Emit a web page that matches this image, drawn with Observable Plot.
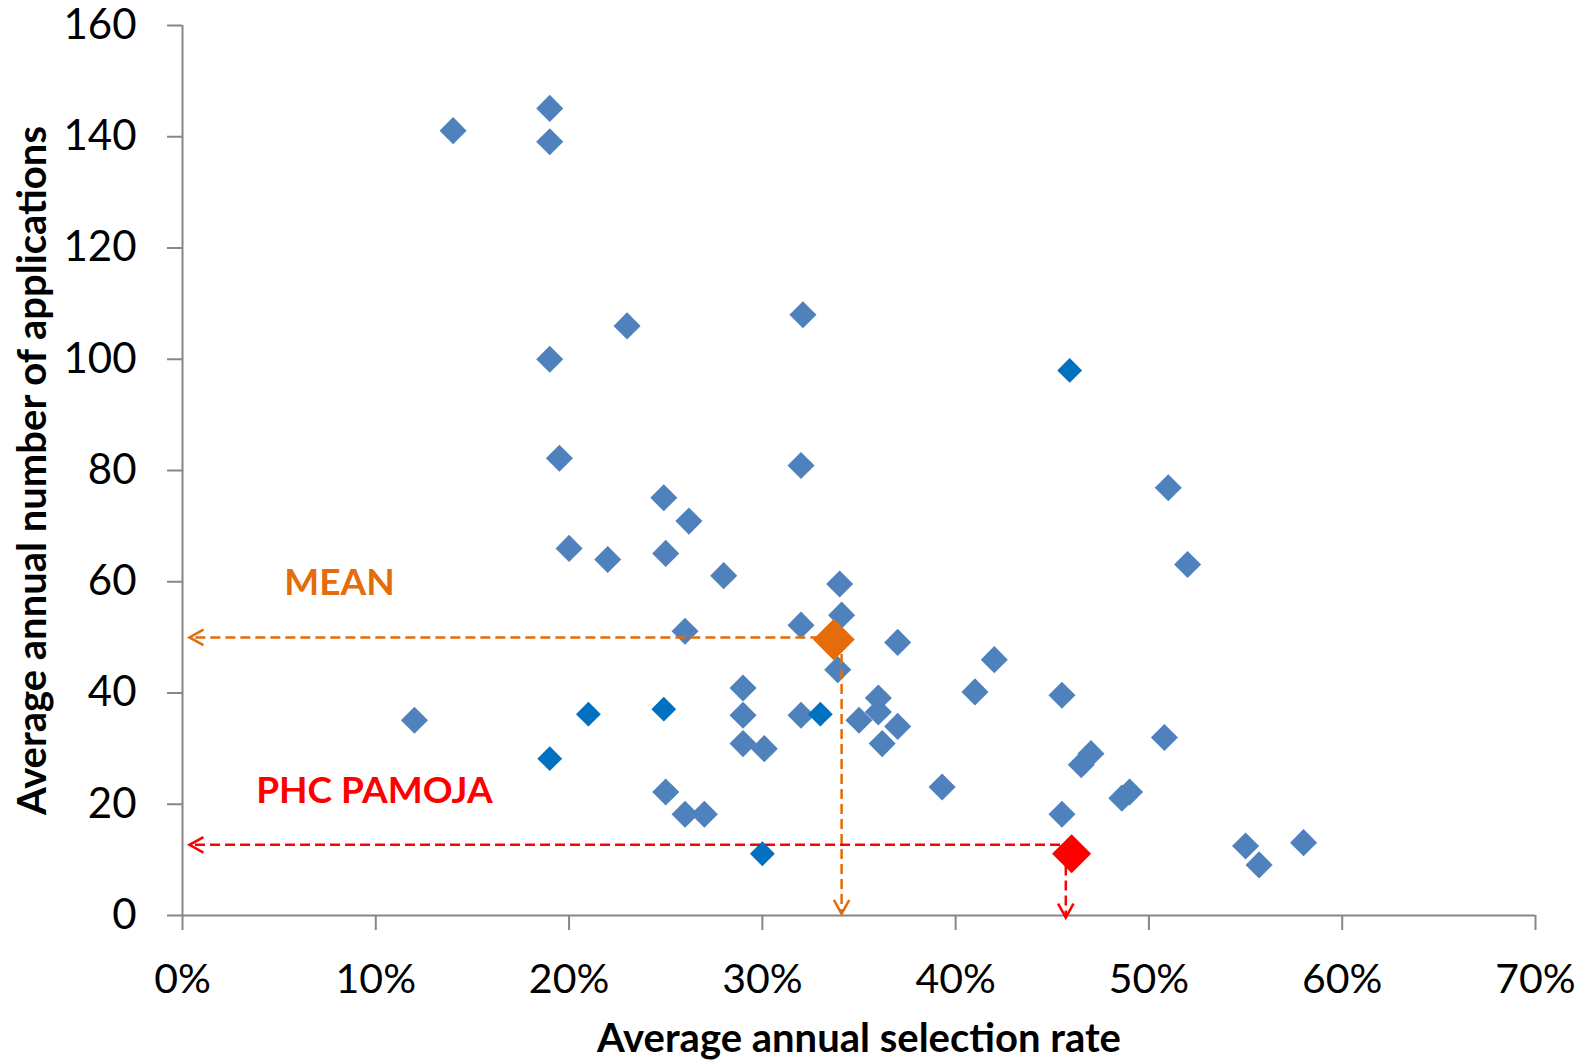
<!DOCTYPE html>
<html>
<head>
<meta charset="utf-8">
<script src="https://cdn.jsdelivr.net/npm/d3@7"></script>
<script src="https://cdn.jsdelivr.net/npm/@observablehq/plot@0.6"></script>
<style>
  html, body { margin: 0; padding: 0; background: #fff; }
</style>
</head>
<body>
<div id="chart"></div>
<script>
// ---- Data ----
// Facilities, regular markers: average annual selection rate (fraction) and applications
const rates = [0.140, 0.190, 0.190, 0.190, 0.195, 0.230, 0.321, 0.320, 0.510, 0.520,
               0.249, 0.262, 0.200, 0.220, 0.250, 0.280, 0.340, 0.341, 0.320, 0.260,
               0.370, 0.339, 0.420, 0.410, 0.455, 0.360, 0.360, 0.362, 0.350, 0.370,
               0.320, 0.290, 0.290, 0.290, 0.301, 0.120, 0.250, 0.260, 0.270, 0.393,
               0.455, 0.465, 0.470, 0.486, 0.490, 0.508, 0.550, 0.557, 0.580];
const apps  = [141.1, 145.1, 139.1, 100.0, 82.2, 106.0, 108.0, 80.9, 76.9, 63.1,
               75.1, 70.9, 66.0, 64.0, 65.1, 61.1, 59.6, 54.0, 52.2, 51.1,
               49.1, 44.2, 46.0, 40.2, 39.6, 39.1, 36.6, 30.9, 35.1, 34.0,
               36.0, 40.9, 36.0, 30.9, 30.0, 35.1, 22.2, 18.2, 18.2, 23.1,
               18.2, 27.1, 29.1, 21.1, 22.2, 32.0, 12.5, 9.1, 13.1];
// Facilities, darker (smaller) markers
const ratesDark = [0.459, 0.330, 0.249, 0.210, 0.190, 0.300];
const appsDark  = [98.0, 36.2, 37.1, 36.2, 28.2, 11.1];
// Highlighted points
const meanRate = 0.337, meanApps = 49.6;
const phcRate = 0.460, phcApps = 11.1;
// Guide lines (data units): [rate1, apps1, rate2, apps2]
const meanGuideH = [0.330, 50.0, 0.0036, 50.0];
const meanGuideV = [0.341, 47.0, 0.341, 0.3];
const phcGuideH  = [0.454, 12.7, 0.0036, 12.7];
const phcGuideV  = [0.457, 9.0, 0.457, -0.4];
// Annotation labels
const labelTexts = ["MEAN", "PHC PAMOJA"];
const labelRates = [0.0812, 0.0993];
const labelApps  = [59.7, 22.3];
// Axes
const xTicks = [0, 0.1, 0.2, 0.3, 0.4, 0.5, 0.6, 0.7];
const yTicks = [0, 20, 40, 60, 80, 100, 120, 140, 160];
const xTitle = "Average annual selection rate";
const yTitle = "Average annual number of applications";

// ---- Build tables ----
const pts = rates.map((r, i) => ({rate: r, apps: apps[i]}));
const ptsDark = ratesDark.map((r, i) => ({rate: r, apps: appsDark[i]}));
const seg = (a) => ({x1: a[0], y1: a[1], x2: a[2], y2: a[3]});
const labels = labelTexts.map((t, i) => ({text: t, rate: labelRates[i], apps: labelApps[i]}));

const BLUE = "#4F81BD", DARK = "#0070C0", ORANGE = "#E46C0A", RED = "#FF0000", AXIS = "#868686";

// open V arrowheads (tip at origin)
const arrowLeft = {draw(ctx, size) { const s = Math.sqrt(size / Math.PI); ctx.moveTo(s, -s * 0.55); ctx.lineTo(0, 0); ctx.lineTo(s, s * 0.55); }};
const arrowDown = {draw(ctx, size) { const s = Math.sqrt(size / Math.PI); ctx.moveTo(-s * 0.55, -s); ctx.lineTo(0, 0); ctx.lineTo(s * 0.55, -s); }};

const dash = "10,5";
const guide = (a, color) => Plot.link([seg(a)], {x1: "x1", y1: "y1", x2: "x2", y2: "y2", stroke: color, strokeWidth: 2.5, strokeDasharray: dash});
const headL = (a, color) => Plot.dot([seg(a)], {x: "x2", y: "y2", symbol: arrowLeft, r: 14, fill: "none", stroke: color, strokeWidth: 2.5});
const headD = (a, color) => Plot.dot([seg(a)], {x: "x2", y: "y2", symbol: arrowDown, r: 14, fill: "none", stroke: color, strokeWidth: 2.5});

const chart = Plot.plot({
  width: 1585,
  height: 1062,
  marginLeft: 182,
  marginRight: 50,
  marginTop: 25,
  marginBottom: 147,
  style: {fontFamily: "Lato, 'Open Sans', sans-serif", fontSize: "40px", color: "#000", background: "#fff"},
  x: {domain: [0, 0.7]},
  y: {domain: [0, 160]},
  marks: [
    Plot.axisX({ticks: xTicks, tickFormat: d3.format(".0%"), tickSize: 15, tickPadding: 33, stroke: AXIS, strokeWidth: 2, fill: "#000", fontSize: 41, label: null}),
    Plot.axisY({ticks: yTicks, tickSize: 15, tickPadding: 31, stroke: AXIS, strokeWidth: 2, fill: "#000", fontSize: 42, label: null}),
    Plot.ruleY([0], {stroke: AXIS, strokeWidth: 2}),
    Plot.ruleX([0], {stroke: AXIS, strokeWidth: 2}),
    Plot.dot(pts, {x: "rate", y: "apps", symbol: "diamond2", r: 12.2, fill: BLUE, stroke: "none"}),
    Plot.dot(ptsDark, {x: "rate", y: "apps", symbol: "diamond2", r: 11.2, fill: DARK, stroke: "none"}),
    guide(meanGuideH, ORANGE), guide(meanGuideV, ORANGE),
    guide(phcGuideH, RED), guide(phcGuideV, RED),
    headL(meanGuideH, ORANGE), headD(meanGuideV, ORANGE),
    headL(phcGuideH, RED), headD(phcGuideV, RED),
    Plot.dot([{rate: meanRate, apps: meanApps}], {x: "rate", y: "apps", symbol: "diamond2", r: 18.8, fill: ORANGE, stroke: "none"}),
    Plot.dot([{rate: phcRate, apps: phcApps}], {x: "rate", y: "apps", symbol: "diamond2", r: 17.6, fill: RED, stroke: "none"}),
    Plot.text(labels, {x: "rate", y: "apps", text: "text", fill: (d) => d.text === "MEAN" ? ORANGE : RED, fontWeight: "bold", fontSize: 37}),
    Plot.text([xTitle], {frameAnchor: "bottom", dy: 124, textAnchor: "middle", lineAnchor: "middle", fontWeight: "bold", fontSize: 40, fill: "#000"}),
    Plot.text([yTitle], {frameAnchor: "left", dx: -149, textAnchor: "middle", lineAnchor: "middle", rotate: -90, fontWeight: "bold", fontSize: 40, fill: "#000"})
  ]
});
document.getElementById("chart").appendChild(chart);
</script>
</body>
</html>
